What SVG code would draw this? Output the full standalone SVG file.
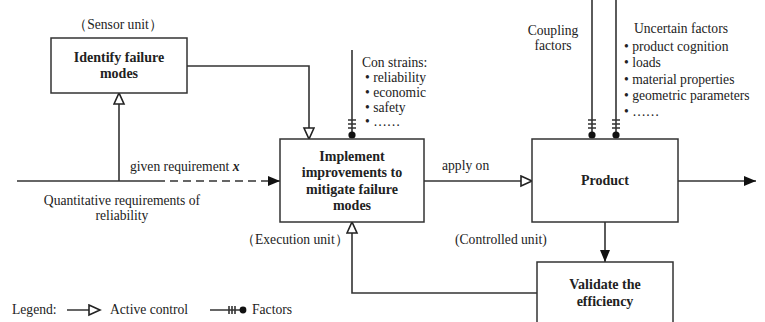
<svg xmlns="http://www.w3.org/2000/svg" width="765" height="322" viewBox="0 0 765 322" font-family="'Liberation Serif', 'Times New Roman', serif">
<style>
text{font-family:'Liberation Serif','Times New Roman',serif;font-size:13.6px;fill:#222}
.b{font-weight:bold;text-anchor:middle;font-size:14px}
.m{text-anchor:middle}
.box{fill:#fff;stroke:#333;stroke-width:1.5}
.ln{fill:none;stroke:#333;stroke-width:1.6}
.dash{stroke-dasharray:8 5}
.dot{fill:#111}
</style>
<defs>
<marker id="hollow" markerWidth="14" markerHeight="14" refX="12" refY="6" orient="auto" markerUnits="userSpaceOnUse"><path d="M1,1 L12,6 L1,11 Z" fill="#fff" stroke="#222" stroke-width="1.6"/></marker>
<marker id="filled" markerWidth="14" markerHeight="12" refX="12" refY="5" orient="auto" markerUnits="userSpaceOnUse"><path d="M0,0 L12,5 L0,10 Z" fill="#111"/></marker>
</defs>

<g id="connectors">
<path class="ln" d="M187,66 H309 V139" marker-end="url(#hollow)"/>
<path class="ln" d="M17,181 H157"/>
<path class="ln dash" d="M157,181 H280" marker-end="url(#filled)"/>
<path class="ln" d="M119,181 V93" marker-end="url(#hollow)"/>
<path class="ln" d="M424,181 H532" marker-end="url(#hollow)"/>
<path class="ln" d="M678,181 H756" marker-end="url(#filled)"/>
<path class="ln" d="M605,222 V262" marker-end="url(#filled)"/>
<path class="ln" d="M537,293 H352 V222" marker-end="url(#hollow)"/>
<g id="factor-constraints">
<path class="ln" d="M352,50 V136"/>
<path class="ln" d="M348,120 H356 M348,124 H356 M348,128 H356" stroke-width="1.2"/>
<circle class="dot" cx="352" cy="135" r="3.6"/>
</g>
<g id="factor-coupling">
<path class="ln" d="M592,0 V136"/>
<path class="ln" d="M588,120 H596 M588,124 H596 M588,128 H596" stroke-width="1.2"/>
<circle class="dot" cx="592" cy="135" r="3.6"/>
</g>
<g id="factor-uncertain">
<path class="ln" d="M616,0 V136"/>
<path class="ln" d="M612,120 H620 M612,124 H620 M612,128 H620" stroke-width="1.2"/>
<circle class="dot" cx="616" cy="135" r="3.6"/>
</g>
</g>

<g id="identify">
<rect class="box" x="51" y="38" width="136" height="55"/>
<text class="m" x="118" y="29">（Sensor unit）</text>
<text class="b" x="119" y="62">Identify failure</text>
<text class="b" x="119" y="78">modes</text>
</g>

<g id="implement">
<rect class="box" x="280" y="139" width="144" height="83"/>
<text class="b" x="352" y="161">Implement</text>
<text class="b" x="352" y="177">improvements to</text>
<text class="b" x="352" y="194">mitigate failure</text>
<text class="b" x="352" y="210">modes</text>
<text x="241" y="244">（Execution unit）</text>
</g>

<g id="product">
<rect class="box" x="532" y="139" width="146" height="83"/>
<text class="b" x="605" y="185">Product</text>
<text x="455" y="244">(Controlled unit)</text>
</g>

<g id="validate">
<rect class="box" x="537" y="262" width="136" height="70"/>
<text class="b" x="605" y="289">Validate the</text>
<text class="b" x="605" y="306">efficiency</text>
</g>

<g id="labels">
<text x="130" y="171">given requirement <tspan font-style="italic" font-weight="bold">x</tspan></text>
<text class="m" x="122" y="205">Quantitative requirements of</text>
<text class="m" x="122" y="220">reliability</text>
<text x="442" y="170">apply on</text>
<text x="362" y="67">Con strains:</text>
<text x="365" y="82">• reliability</text>
<text x="365" y="97">• economic</text>
<text x="365" y="112">• safety</text>
<text x="365" y="126">• ……</text>
<text class="m" x="553" y="35">Coupling</text>
<text class="m" x="553" y="50">factors</text>
<text x="634" y="33">Uncertain factors</text>
<text x="624" y="51">• product cognition</text>
<text x="624" y="67">• loads</text>
<text x="624" y="84">• material properties</text>
<text x="624" y="100">• geometric parameters</text>
<text x="624" y="116">• ……</text>
</g>

<g id="legend">
<text x="12" y="314">Legend:</text>
<path class="ln" d="M67,310 H100" marker-end="url(#hollow)"/>
<text x="110" y="314">Active control</text>
<path class="ln" d="M210,310 H243"/>
<path class="ln" d="M229,306 V314 M232,306 V314 M235,306 V314" stroke-width="1.2"/>
<circle class="dot" cx="243" cy="310" r="3.4"/>
<text x="252" y="314">Factors</text>
</g>
</svg>
